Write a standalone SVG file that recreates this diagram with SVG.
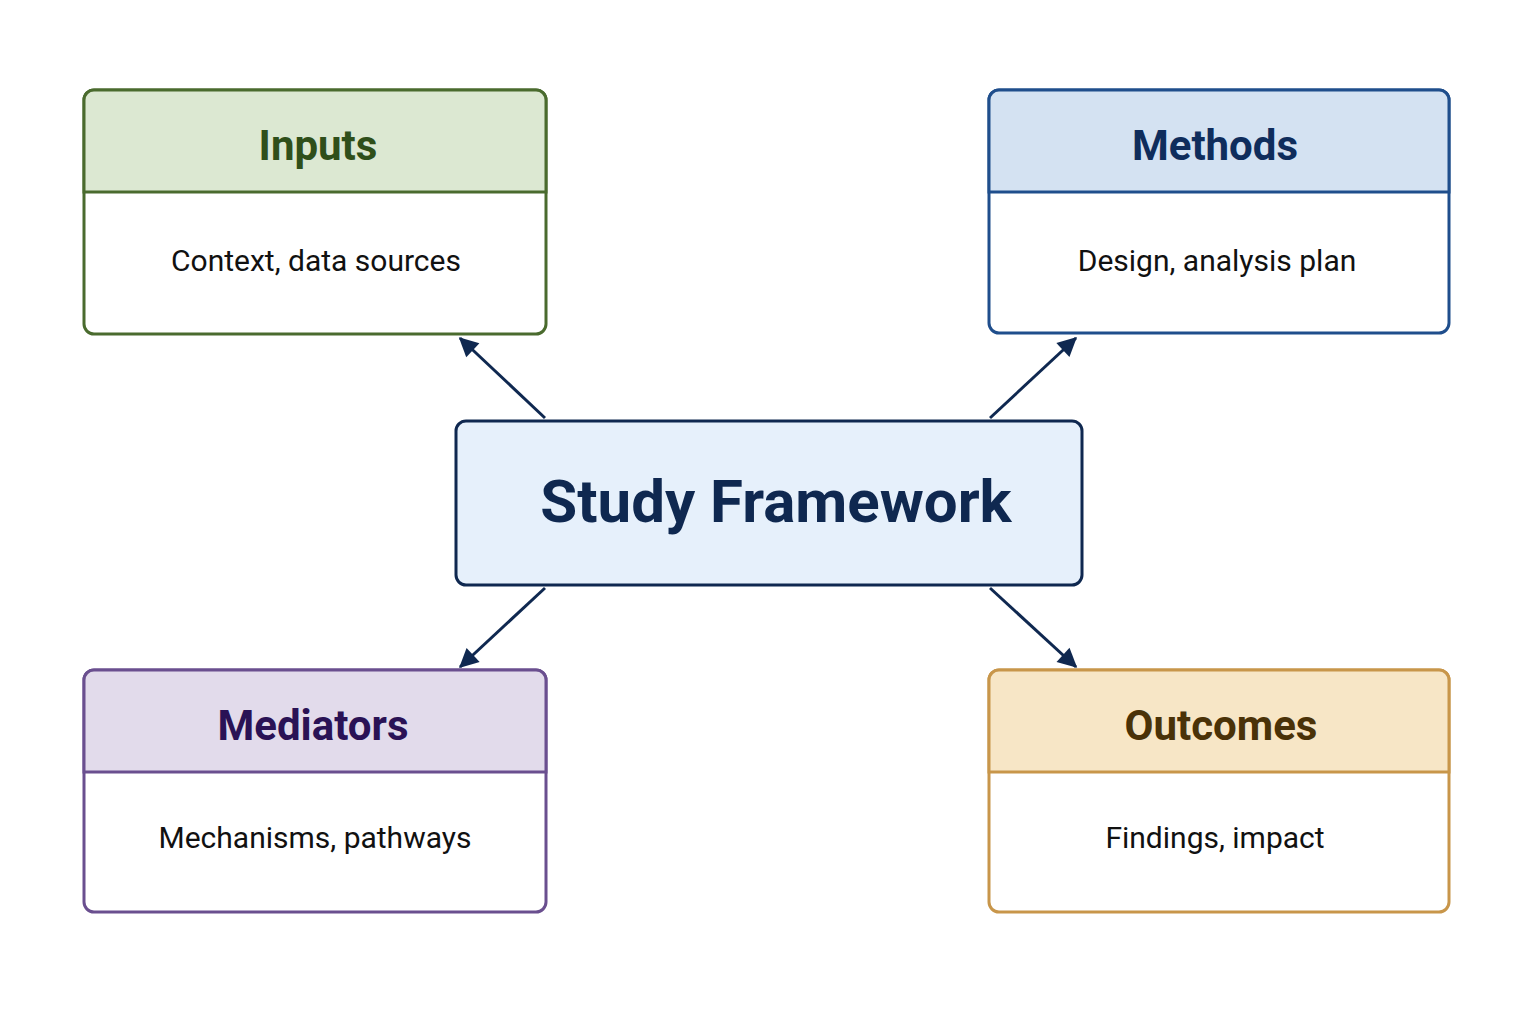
<svg xmlns="http://www.w3.org/2000/svg" width="1536" height="1024" viewBox="0 0 1536 1024">
<style>
.t{font-family:Roboto,"Liberation Sans",sans-serif;font-weight:bold;font-size:42px;text-anchor:middle}
.b{font-family:Roboto,"Liberation Sans",sans-serif;font-size:30px;text-anchor:middle;fill:#111}
.c{stroke:#0f2850;stroke-width:3;fill:none;marker-end:url(#a)}
</style>
<defs><marker id="a" viewBox="0 0 10 10" refX="9" refY="5" markerWidth="8" markerHeight="8" markerUnits="userSpaceOnUse" orient="auto" style="overflow:visible"><path d="M0,0L10,5L0,10z" fill="#0f2850" transform="scale(2.4) translate(-5.5,-3)"/></marker></defs>
<rect width="1536" height="1024" fill="#fff"/>
<g id="inputs">
<rect x="84" y="90" width="462" height="244" rx="10" fill="#fff" stroke="#4a6b2e" stroke-width="3"/>
<path d="M84,192V100a10,10 0 0 1 10,-10H536a10,10 0 0 1 10,10V192z" fill="#dce8d2" stroke="#4a6b2e" stroke-width="3"/>
<text x="318" y="160" class="t" fill="#2f4f1a">Inputs</text>
<text x="316" y="271" class="b">Context, data sources</text>
</g>
<g id="methods">
<rect x="989" y="90" width="460" height="243" rx="10" fill="#fff" stroke="#1f4e8c" stroke-width="3"/>
<path d="M989,192V100a10,10 0 0 1 10,-10H1439a10,10 0 0 1 10,10V192z" fill="#d4e2f2" stroke="#1f4e8c" stroke-width="3"/>
<text x="1215" y="160" class="t" fill="#0f2d5c">Methods</text>
<text x="1217" y="271" class="b">Design, analysis plan</text>
</g>
<g id="mediators">
<rect x="84" y="670" width="462" height="242" rx="10" fill="#fff" stroke="#6a4f8f" stroke-width="3"/>
<path d="M84,772V680a10,10 0 0 1 10,-10H536a10,10 0 0 1 10,10V772z" fill="#e2dbeb" stroke="#6a4f8f" stroke-width="3"/>
<text x="313" y="740" class="t" fill="#2a1255">Mediators</text>
<text x="315" y="848" class="b">Mechanisms, pathways</text>
</g>
<g id="outcomes">
<rect x="989" y="670" width="460" height="242" rx="10" fill="#fff" stroke="#c8964a" stroke-width="3"/>
<path d="M989,772V680a10,10 0 0 1 10,-10H1439a10,10 0 0 1 10,10V772z" fill="#f7e6c6" stroke="#c8964a" stroke-width="3"/>
<text x="1221" y="740" class="t" fill="#4a3208">Outcomes</text>
<text x="1215" y="848" class="b">Findings, impact</text>
</g>
<g id="center">
<rect x="456" y="421" width="626" height="164" rx="10" fill="#e6f0fb" stroke="#0f2850" stroke-width="3"/>
<text x="776" y="522" class="t" style="font-size:60px" fill="#0f2850">Study Framework</text>
</g>
<g id="connectors">
<line x1="545" y1="418" x2="460" y2="338" class="c"/>
<line x1="990" y1="418" x2="1076" y2="338" class="c"/>
<line x1="545" y1="588" x2="460" y2="667" class="c"/>
<line x1="990" y1="588" x2="1076" y2="667" class="c"/>
</g>
</svg>
